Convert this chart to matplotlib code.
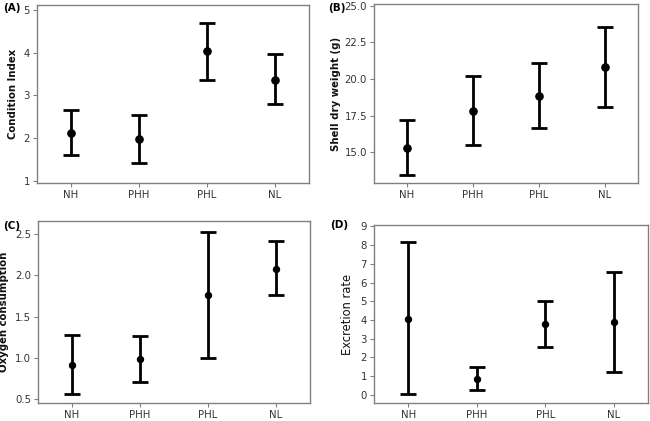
import matplotlib
matplotlib.use("Agg")
import matplotlib.pyplot as plt

groups = ["NH", "PHH", "PHL", "NL"]

ci_mean = [2.12, 1.97, 4.04, 3.37]
ci_low = [1.60, 1.41, 3.36, 2.79]
ci_high = [2.67, 2.55, 4.71, 3.98]

sw_mean = [15.3, 17.8, 18.85, 20.85]
sw_low = [13.45, 15.5, 16.65, 18.1]
sw_high = [17.2, 20.2, 21.1, 23.55]

oc_mean = [0.91, 0.98, 1.76, 2.08]
oc_low = [0.56, 0.71, 1.00, 1.76]
oc_high = [1.27, 1.26, 2.53, 2.42]

er_mean = [4.07, 0.87, 3.80, 3.90]
er_low = [0.05, 0.28, 2.57, 1.25]
er_high = [8.17, 1.50, 5.03, 6.57]

W, H = 650, 421
fig = plt.figure(figsize=(W / 100, H / 100), dpi=100)

def px_axes(left, right, top, bottom):
    return fig.add_axes([left / W, (H - bottom) / H, (right - left) / W, (bottom - top) / H])

panels = [
    dict(box=(37, 309, 5, 183), m=ci_mean, lo=ci_low, hi=ci_high, ylab="Condition Index", bold=True, lx=18, fs=7.3,
         yt=[1, 2, 3, 4, 5], ytl=["1", "2", "3", "4", "5"], ylim=(0.95, 5.12), lab="(A)", lp=(3, 8), ms=5.2),
    dict(box=(374, 638, 4, 183), m=sw_mean, lo=sw_low, hi=sw_high, ylab="Shell dry weight (g)", bold=True, lx=341, fs=7.3,
         yt=[15, 17.5, 20, 22.5, 25], ytl=["15.0", "17.5", "20.0", "22.5", "25.0"], ylim=(12.9, 25.12), lab="(B)", lp=(328, 8), ms=5.2),
    dict(box=(38, 310, 221, 403), m=oc_mean, lo=oc_low, hi=oc_high, ylab="Oxygen consumption", bold=True, lx=9, fs=7.3,
         yt=[0.5, 1.0, 1.5, 2.0, 2.5], ytl=["0.5", "1.0", "1.5", "2.0", "2.5"], ylim=(0.45, 2.66), lab="(C)", lp=(3, 226), ms=4.3),
    dict(box=(374, 648, 225, 403), m=er_mean, lo=er_low, hi=er_high, ylab="Excretion rate", bold=False, lx=354, fs=8.3,
         yt=list(range(10)), ytl=[str(i) for i in range(10)], ylim=(-0.43, 9.07), lab="(D)", lp=(330, 225), ms=4.3),
]

for p in panels:
    ax = px_axes(*p["box"])
    x = list(range(len(groups)))
    yerr = [[m - l for m, l in zip(p["m"], p["lo"])], [h - m for m, h in zip(p["m"], p["hi"])]]
    ax.errorbar(x, p["m"], yerr=yerr, fmt="o", color="black", ms=p["ms"], elinewidth=2.0,
                capsize=6, capthick=2.0, ecolor="black")
    ax.set_xlim(-0.5, 3.5)
    ax.set_ylim(*p["ylim"])
    ax.set_xticks(x)
    ax.set_xticklabels(groups)
    ax.set_yticks(p["yt"])
    ax.set_yticklabels(p["ytl"])
    for s in ax.spines.values():
        s.set_color("#808080")
        s.set_linewidth(1.0)
    ax.tick_params(axis="both", direction="out", length=3, width=0.8, color="#808080",
                   labelsize=7.3, labelcolor="#333333", pad=2)
    ax.set_ylabel(p["ylab"], fontsize=p["fs"], fontweight="bold" if p["bold"] else "normal",
                  color="#111111")
    left, right = p["box"][0], p["box"][1]
    ax.yaxis.set_label_coords((p["lx"] - left) / (right - left), 0.5)
    fig.text(p["lp"][0] / W, 1 - p["lp"][1] / H, p["lab"], fontsize=7.5, fontweight="bold",
             ha="left", va="center")

fig.savefig("out.png", dpi=100)
